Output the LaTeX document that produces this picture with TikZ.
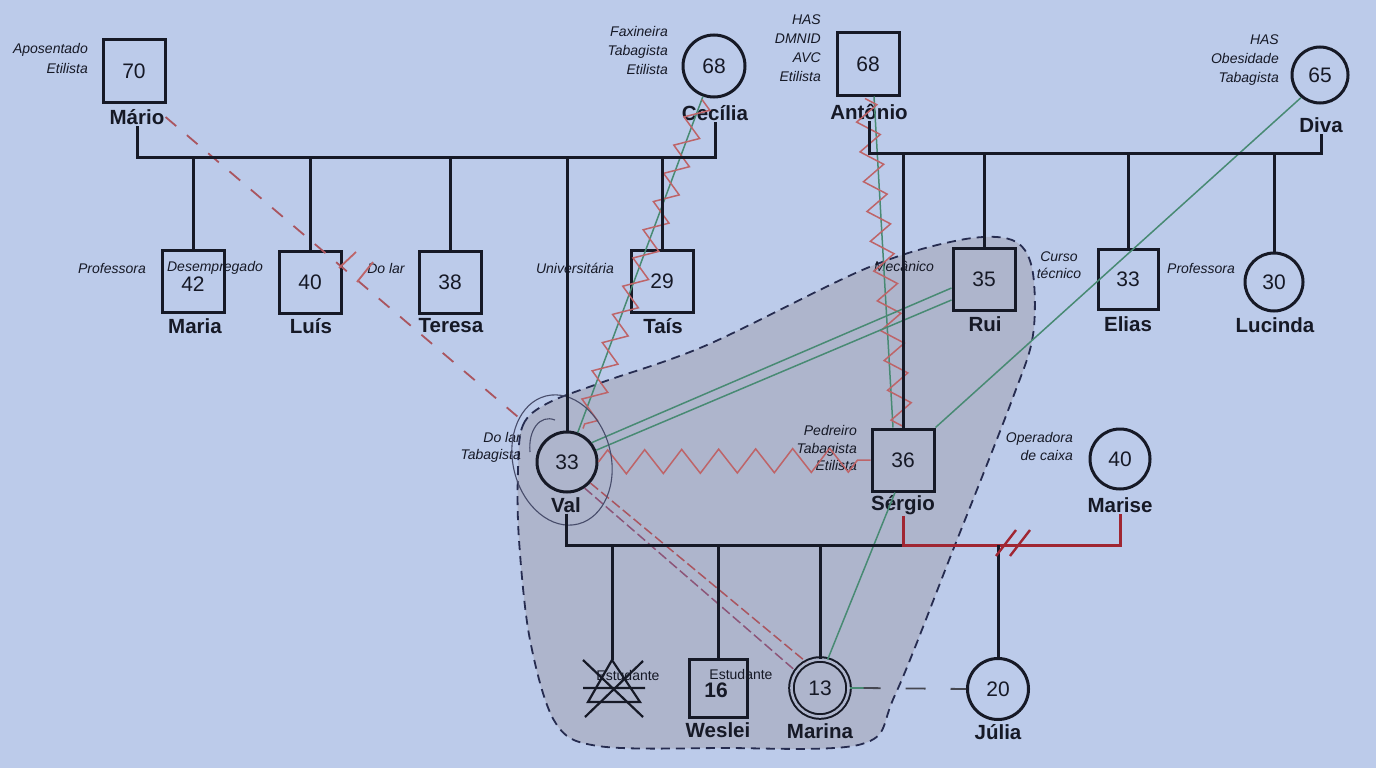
\documentclass[tikz,border=0pt]{standalone}
\usepackage{fontspec}
\setmainfont{Liberation Sans}
\usetikzlibrary{decorations.pathmorphing,calc}
\definecolor{bg}{RGB}{188,203,234}
\definecolor{hhfill}{RGB}{174,181,204}
\definecolor{relz}{RGB}{190,100,104}
\definecolor{reld}{RGB}{170,85,95}
\definecolor{relp}{RGB}{140,85,120}
\definecolor{grn}{RGB}{72,138,115}
\definecolor{navy}{RGB}{38,44,80}
\definecolor{ink}{RGB}{22,25,38}
\definecolor{dred}{RGB}{160,38,50}
\begin{document}
\begin{tikzpicture}[x=1pt,y=-1pt,
  male/.style={draw=ink,line width=3pt,minimum size=62pt,inner sep=0pt,text=ink,font=\fontsize{21}{23}\selectfont},
  female/.style={circle,draw=ink,line width=3pt,minimum size=60pt,inner sep=0pt,text=ink,font=\fontsize{21}{23}\selectfont},
  pname/.style={font=\fontsize{20.5}{22}\selectfont\bfseries,inner sep=1pt,text=ink},
  lab/.style={font=\fontsize{14}{19}\selectfont\itshape,align=right,inner sep=0pt,text=ink},
  plain/.style={font=\fontsize{14}{17}\selectfont,inner sep=0pt,text=ink},
  fam/.style={draw=ink,line width=3pt},
  famred/.style={draw=dred,line width=3pt},
  zig/.style={draw=relz,line width=1.5pt,decorate,decoration={zigzag,segment length=#1,amplitude=11pt}},
  close/.style={draw=grn,line width=1.5pt},
  distant/.style={draw=reld,line width=1.8pt,dash pattern=on 14pt off 14pt},
  hh/.style={draw=navy,line width=1.8pt,dash pattern=on 9pt off 6pt}]
\useasboundingbox (0,0) rectangle (1376,768);
\fill[bg] (0,0) rectangle (1376,768);

% household
\fill[hhfill] plot[smooth cycle,tension=0.55] coordinates {(518,470) (523,425) (548,403) (603,382) (707,345) (867,268) (960,240) (1012,240) (1032,268) (1033,335) (1012,400) (953,550) (895,695) (862,744) (720,748) (598,746) (555,722) (530,640) (519,540)};
\draw[hh] plot[smooth cycle,tension=0.55] coordinates {(518,470) (523,425) (548,403) (603,382) (707,345) (867,268) (960,240) (1012,240) (1032,268) (1033,335) (1012,400) (953,550) (895,695) (862,744) (720,748) (598,746) (555,722) (530,640) (519,540)};

% persons
\node[male] (mario) at (134,71) {70};
\node[pname] (marioN) at (137,117) {Mário};
\node[lab,anchor=east,font=\fontsize{14}{20}\selectfont\itshape] (marioL) at (88,58) {Aposentado\\Etilista};

\node[female,minimum size=62pt] (cecilia) at (714,66) {68};
\node[pname] (ceciliaN) at (715,113) {Cecília};
\node[lab,anchor=east] (ceciliaL) at (668,50) {Faxineira\\Tabagista\\Etilista};

\node[male] (antonio) at (868,64) {68};
\node[pname] (antonioN) at (869,112) {Antônio};
\node[lab,anchor=east] (antonioL) at (821,48) {HAS\\DMNID\\AVC\\Etilista};

\node[female,minimum size=56pt] (diva) at (1320,75) {65};
\node[pname] (divaN) at (1321,125) {Diva};
\node[lab,anchor=east] (divaL) at (1279,60) {HAS\\Obesidade\\Tabagista};

\node[male] (maria) at (193,281) {};
\node[text=ink,font=\fontsize{21}{23}\selectfont,inner sep=0pt] (mariaA) at (193,284) {42};
\node[pname] (mariaN) at (195,326) {Maria};
\node[lab] (mariaL) at (112,268) {Professora};
\node[lab] (luisL) at (215,268) {Desempregado};

\node[male] (luis) at (310,282) {40};
\node[pname] (luisN) at (311,326) {Luís};
\node[lab] (teresaL) at (386,268) {Do lar};

\node[male] (teresa) at (450,282) {38};
\node[pname] (teresaN) at (451,326) {Teresa};

\node[female] (val) at (567,462) {33};
\node[pname] (valN) at (566,505) {Val};
\node[lab,anchor=east,font=\fontsize{14}{17}\selectfont\itshape] (valL) at (521,447) {Do lar\\Tabagista};

\node[male] (tais) at (662,281) {29};
\node[pname] (taisN) at (663,326) {Taís};
\node[lab] (taisL) at (575,268) {Universitária};

\node[male] (sergio) at (903,460) {36};
\node[pname] (sergioN) at (903,505) {Sérgio};
\node[lab,anchor=east,font=\fontsize{14}{17.5}\selectfont\itshape] (sergioL) at (857,448) {Pedreiro\\Tabagista\\Etilista};
\node[lab] (sergioL2) at (904,266) {Mecânico};

\node[male] (rui) at (984,279) {35};
\node[pname] (ruiN) at (985,324) {Rui};

\node[male,minimum size=60pt] (elias) at (1128,279) {33};
\node[pname] (eliasN) at (1128,324) {Elias};
\node[lab,align=center,font=\fontsize{14}{17}\selectfont\itshape] (eliasL) at (1059,265) {Curso\\técnico};

\node[female,minimum size=58pt] (lucinda) at (1274,282) {30};
\node[pname] (lucindaN) at (1275,325) {Lucinda};
\node[lab] (lucindaL) at (1201,268) {Professora};

\node[female] (marise) at (1120,459) {40};
\node[pname] (mariseN) at (1120,505) {Marise};
\node[lab,anchor=east,font=\fontsize{14}{18}\selectfont\itshape] (mariseL) at (1073,446) {Operadora\\de caixa};

\node[female,minimum size=61pt] (julia) at (998,689) {20};
\node[pname] (juliaN) at (998,732) {Júlia};

\coordinate (tri) at (612,660);
\node[male,minimum size=58pt] (weslei) at (718,688) {};
\node[text=ink,font=\fontsize{21}{23}\selectfont\bfseries,inner sep=0pt] (wesleiA) at (716,690) {16};
\node[pname] (wesleiN) at (718,730) {Weslei};
\node[plain] (wesleiL) at (741,674) {Estudante};
\node[plain] (triL) at (628,675) {Estudante};

\node[female,minimum size=57pt,line width=2pt,double=hhfill,double distance=2.6pt] (marina) at (820,688) {13};
\node[pname] (marinaN) at (820,731) {Marina};

% relationship lines
\draw[distant] (marioN.east) -- ($(marioN.east)!0.93!(val.135)$);
\draw[draw=relz,line width=1.8pt] (339,268) -- (356,252) (357,282) -- (373,262);
\draw[close] (cecilia.250) -- (val.70);
\draw[zig=30pt] ($(cecilia.south)+(-12,1)$) -- ($(val.north)+(16,-2)$);
\draw[close] ($(antonio.south)+(6,0)$) -- ($(sergio.north)+(-10,0)$);
\draw[zig=30pt] ($(antonio.south)+(-3,2)$) -- ($(sergio.north)+(0,0)$);
\draw[draw=relz,line width=1.5pt,decorate,decoration={zigzag,segment length=37pt,amplitude=12pt}] (val.east) -- (sergio.west);
\draw[close] (val.38) -- ($(rui.west)+(0,9)$);
\draw[close] (val.22) -- ($(rui.west)+(0,21)$);
\draw[close] (diva.230) -- (sergio.north east);
\draw[close] ($(sergio.south)+(-8,0)$) -- (marina.75);
\draw[draw=reld,line width=1.5pt,dash pattern=on 10pt off 4pt] (val.-42) -- (marina.118);
\draw[draw=relp,line width=1.5pt,dash pattern=on 10pt off 4pt] (val.-56) -- (marina.145);
\draw[close] (marina.east) -- ++(14,0) coordinate (mj);
\draw[draw=ink!80,line width=1.8pt,dash pattern=on 20pt off 25pt,dash phase=3pt] (mj) -- (julia.west);
\draw[draw=navy!85,line width=1.1pt,rotate around={14:(562,460)}] (562,460) ellipse [x radius=49pt,y radius=66pt];
\draw[draw=navy!85,line width=1.1pt] (530,452) .. controls (528,430) and (540,414) .. (555,420);

% family lines
\coordinate (bar1) at (0,157);
\coordinate (bar2) at (0,153);
\coordinate (bar3) at (0,545);
\draw[fam] (marioN.south) -- (marioN.south |- bar1) -- (ceciliaN.south |- bar1) -- (ceciliaN.south);
\foreach \c in {maria,luis,teresa,val,tais} \draw[fam] (\c.north |- bar1) -- (\c.north);
\draw[fam] (antonioN.south) -- (antonioN.south |- bar2) -- (divaN.south |- bar2) -- (divaN.south);
\foreach \c in {sergio,rui,elias,lucinda} \draw[fam] (\c.north |- bar2) -- (\c.north);
\draw[fam] (valN.south) -- (valN.south |- bar3) -- (sergioN.south |- bar3);
\draw[famred] (sergioN.south) -- (sergioN.south |- bar3) -- (mariseN.south |- bar3) -- (mariseN.south);
\draw[fam] (julia.north |- bar3) -- (julia.north);
\draw[draw=dred,line width=2.4pt] (996,556) -- (1016,530) (1010,556) -- (1030,530);
\draw[fam] (tri |- bar3) -- (tri);
\draw[fam] (weslei.north |- bar3) -- (weslei.north);
\draw[fam] (marina.north |- bar3) -- (marina.north);

% deceased triangle
\draw[draw=ink,line width=2.2pt] (tri) -- (640,702) -- (588,702) -- cycle;
\draw[draw=ink,line width=2.2pt] (583,660) -- (643,717) (643,661) -- (585,717) (583,688) -- (645,688);
\end{tikzpicture}
\end{document}
